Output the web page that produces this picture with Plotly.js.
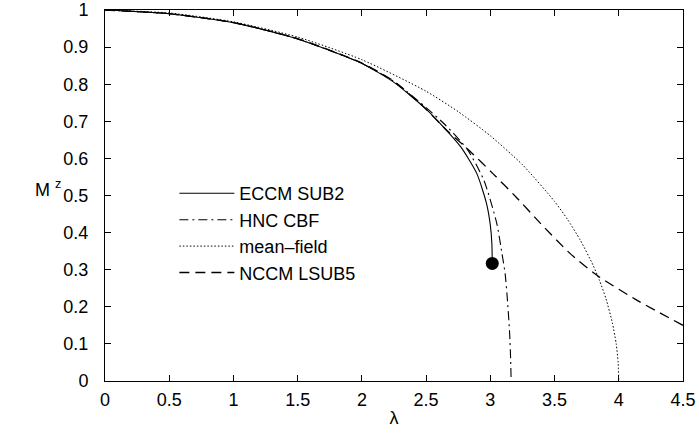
<!DOCTYPE html>
<html>
<head>
<meta charset="utf-8">
<script src="https://cdn.plot.ly/plotly-3.0.1.min.js"></script>
<style>html,body{margin:0;padding:0;background:#fff;}</style>
</head>
<body>
<div id="chart" style="width:699px;height:440px;"></div>
<script>
// ECCM SUB2 (solid)
const eccmX = [0, 0.5, 1, 1.5, 2, 2.25, 2.5, 2.61, 2.77, 2.895, 2.97, 3.0, 3.012, 3.015];
const eccmY = [1, 0.99, 0.966, 0.922, 0.856, 0.805, 0.733, 0.694, 0.631, 0.559, 0.479, 0.42, 0.37, 0.317];
// ECCM terminating point
const eccmEndX = [3.015];
const eccmEndY = [0.317];
// HNC CBF (dash-dot)
const hncX = [0, 0.5, 1, 1.5, 2, 2.25, 2.5, 2.65, 2.82, 2.95, 3.05, 3.09, 3.115, 3.135, 3.15, 3.158, 3.162];
const hncY = [1, 0.99, 0.966, 0.922, 0.856, 0.807, 0.737, 0.69, 0.625, 0.541, 0.425, 0.345, 0.29, 0.21, 0.13, 0.06, 0];
// mean-field (dotted)
const mfX = [0, 0.5, 1, 1.5, 2, 2.5, 2.75, 3, 3.25, 3.5, 3.6, 3.7, 3.8, 3.85, 3.9, 3.95, 3.98, 3.995, 4.0];
const mfY = [1, 0.992, 0.968, 0.927, 0.866, 0.781, 0.726, 0.661, 0.583, 0.484, 0.436, 0.38, 0.312, 0.271, 0.222, 0.157, 0.1, 0.05, 0];
// NCCM LSUB5 (dashed)
const nccmX = [0, 0.5, 1, 1.5, 2, 2.25, 2.48, 2.66, 2.84, 3.02, 3.2, 3.39, 3.62, 3.83, 4.14, 4.5];
const nccmY = [1, 0.99, 0.966, 0.923, 0.857, 0.808, 0.739, 0.676, 0.62, 0.559, 0.496, 0.425, 0.344, 0.285, 0.218, 0.15];
const xTicks = [0, 0.5, 1, 1.5, 2, 2.5, 3, 3.5, 4, 4.5];
const xTickText = ['0', '0.5', '1', '1.5', '2', '2.5', '3', '3.5', '4', '4.5'];
const yTicks = [0, 0.1, 0.2, 0.3, 0.4, 0.5, 0.6, 0.7, 0.8, 0.9, 1];
const yTickText = ['0', '0.1', '0.2', '0.3', '0.4', '0.5', '0.6', '0.7', '0.8', '0.9', '1'];

const FONT = 'Liberation Sans, Arial, Helvetica, sans-serif';
const FS = 18;

const traces = [
  {x: eccmX, y: eccmY, mode: 'lines', name: 'ECCM SUB2', line: {color: '#000', width: 1.1, dash: 'solid', shape: 'spline', smoothing: 0.6}},
  {x: hncX, y: hncY, mode: 'lines', name: 'HNC CBF', line: {color: '#000', width: 1.1, dash: '9px,4px,2px,4px', shape: 'spline', smoothing: 0.6}},
  {x: mfX, y: mfY, mode: 'lines', name: 'mean\u2013field', line: {color: '#000', width: 1, dash: '1.5px,2px', shape: 'spline', smoothing: 0.6}},
  {x: nccmX, y: nccmY, mode: 'lines', name: 'NCCM LSUB5', line: {color: '#000', width: 1.3, dash: '10px,6px', shape: 'spline', smoothing: 0.6}},
  {x: eccmEndX, y: eccmEndY, mode: 'markers', showlegend: false, marker: {color: '#000', size: 13, symbol: 'circle'}}
];

const axisCommon = {
  showgrid: false, zeroline: false, showline: true, linecolor: '#000', linewidth: 1,
  mirror: 'allticks', ticks: 'inside', ticklen: 6, tickcolor: '#000', tickwidth: 1,
  tickfont: {family: FONT, size: FS, color: '#000'}
};

const layout = {
  width: 699, height: 440,
  margin: {l: 104.5, r: 16, t: 10, b: 59.3},
  paper_bgcolor: '#fff', plot_bgcolor: '#fff',
  font: {family: FONT, color: '#000'},
  xaxis: Object.assign({}, axisCommon, {
    range: [0, 4.5], tickvals: xTicks, ticktext: xTickText, ticklabelstandoff: 2,
    title: {text: '\u03bb', font: {family: FONT, size: FS, color: '#000'}, standoff: 2}
  }),
  yaxis: Object.assign({}, axisCommon, {
    range: [0, 1], tickvals: yTicks, ticktext: yTickText, ticklabelstandoff: 12
  }),
  showlegend: true,
  legend: {
    x: 0.12, y: 0.555, xanchor: 'left', yanchor: 'top',
    bgcolor: 'rgba(0,0,0,0)', borderwidth: 0,
    font: {family: FONT, size: FS, color: '#000'},
    itemwidth: 55
  },
  annotations: [{
    xref: 'paper', yref: 'paper', x: -0.098, y: 0.52, xanchor: 'center', yanchor: 'middle',
    text: 'M <sup>z</sup>', showarrow: false, font: {family: FONT, size: FS, color: '#000'}
  }]
};

Plotly.newPlot('chart', traces, layout, {displayModeBar: false, staticPlot: true});
</script>
</body>
</html>
